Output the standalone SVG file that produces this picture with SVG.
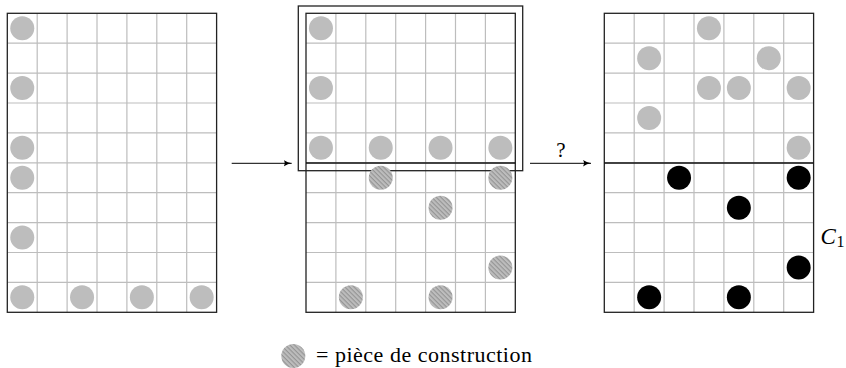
<svg xmlns="http://www.w3.org/2000/svg" xmlns:xlink="http://www.w3.org/1999/xlink" width="846" height="368" viewBox="0 0 846 368">
<style>
.gl{fill:none;stroke:#bdbdbd;stroke-width:1.2}
.bd{fill:none;stroke:#222;stroke-width:1.3}
.sep{stroke:#111;stroke-width:1.3}
.g{fill:#bdbdbd}
.h{fill:url(#hatch)}
.b{fill:#000}
.con{stroke:#000;stroke-width:1;fill:none}
.t{font-family:"Liberation Serif","DejaVu Serif",serif;fill:#000}
</style>
<defs>
<pattern id="hatch" patternUnits="userSpaceOnUse" width="3.2" height="3.2" patternTransform="rotate(45)">
<rect width="3.2" height="3.2" fill="#bdbdbd"/>
<line x1="0" y1="0.6" x2="3.2" y2="0.6" stroke="#8a8a8a" stroke-width="0.9"/>
</pattern>
<g id="grid">
<path class="gl" d="M29.9,0V299M59.8,0V299M89.7,0V299M119.6,0V299M149.5,0V299M179.4,0V299M0,29.9H209.3M0,59.8H209.3M0,89.7H209.3M0,119.6H209.3M0,149.5H209.3M0,179.4H209.3M0,209.3H209.3M0,239.2H209.3M0,269.1H209.3"/>
<rect class="bd" x="0" y="0" width="209.3" height="299"/>
</g>
<marker id="arr" markerWidth="10" markerHeight="8" refX="8" refY="4" orient="auto" markerUnits="userSpaceOnUse">
<path d="M0,0.8 Q4,3.4 8,4 Q4,4.6 0,7.2 Q2,4 0,0.8z" fill="#000"/>
</marker>
</defs>

<g id="grid-left">
<use xlink:href="#grid" x="7.3" y="13.3"/>
<circle class="g" cx="22.25" cy="28.25" r="12"/>
<circle class="g" cx="22.25" cy="88.05" r="12"/>
<circle class="g" cx="22.25" cy="147.85" r="12"/>
<circle class="g" cx="22.25" cy="177.75" r="12"/>
<circle class="g" cx="22.25" cy="237.55" r="12"/>
<circle class="g" cx="22.25" cy="297.35" r="12"/>
<circle class="g" cx="82.05" cy="297.35" r="12"/>
<circle class="g" cx="141.85" cy="297.35" r="12"/>
<circle class="g" cx="201.65" cy="297.35" r="12"/>
</g>

<g id="grid-middle">
<use xlink:href="#grid" x="306" y="13.3"/>
<line class="sep" x1="306" y1="163" x2="515.3" y2="163"/>
<rect class="bd" x="298.3" y="6" width="224.4" height="164.7"/>
<circle class="g" cx="320.95" cy="28.25" r="12"/>
<circle class="g" cx="320.95" cy="88.05" r="12"/>
<circle class="g" cx="320.95" cy="147.85" r="12"/>
<circle class="g" cx="380.75" cy="147.85" r="12"/>
<circle class="g" cx="440.55" cy="147.85" r="12"/>
<circle class="g" cx="500.35" cy="147.85" r="12"/>
<circle class="h" cx="380.75" cy="177.75" r="12"/>
<circle class="h" cx="500.35" cy="177.75" r="12"/>
<circle class="h" cx="440.55" cy="207.65" r="12"/>
<circle class="h" cx="500.35" cy="267.45" r="12"/>
<circle class="h" cx="350.85" cy="297.35" r="12"/>
<circle class="h" cx="440.55" cy="297.35" r="12"/>
</g>

<g id="grid-right">
<use xlink:href="#grid" x="604.3" y="13.3"/>
<line class="sep" x1="604.3" y1="163" x2="813.6" y2="163"/>
<circle class="g" cx="708.95" cy="28.25" r="12"/>
<circle class="g" cx="649.15" cy="58.15" r="12"/>
<circle class="g" cx="768.75" cy="58.15" r="12"/>
<circle class="g" cx="708.95" cy="88.05" r="12"/>
<circle class="g" cx="738.85" cy="88.05" r="12"/>
<circle class="g" cx="798.65" cy="88.05" r="12"/>
<circle class="g" cx="649.15" cy="117.95" r="12"/>
<circle class="g" cx="798.65" cy="147.85" r="12"/>
<circle class="b" cx="679.05" cy="177.75" r="12"/>
<circle class="b" cx="798.65" cy="177.75" r="12"/>
<circle class="b" cx="738.85" cy="207.65" r="12"/>
<circle class="b" cx="798.65" cy="267.45" r="12"/>
<circle class="b" cx="649.15" cy="297.35" r="12"/>
<circle class="b" cx="738.85" cy="297.35" r="12"/>
<text class="t" x="820.5" y="243.5" font-size="23" font-style="italic">C</text>
<text class="t" x="836.5" y="247" font-size="16">1</text>
</g>

<g id="connectors">
<line class="con" x1="231.7" y1="163.3" x2="291.7" y2="163.3" marker-end="url(#arr)"/>
<line class="con" x1="530" y1="163.3" x2="591" y2="163.3" marker-end="url(#arr)"/>
<text class="t" x="561" y="156.5" font-size="21" text-anchor="middle">?</text>
</g>

<g id="legend">
<circle class="h" cx="293.3" cy="356" r="12"/>
<text class="t" x="316" y="361.7" font-size="22" textLength="216">= pièce de construction</text>
</g>
</svg>
